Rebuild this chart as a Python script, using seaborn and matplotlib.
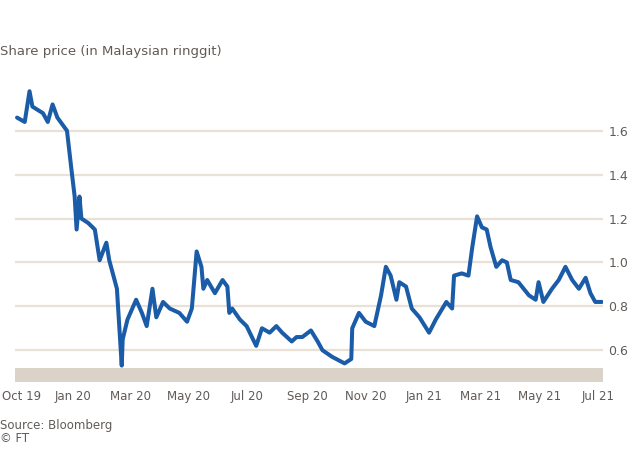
import pandas as pd
import matplotlib.pyplot as plt
import matplotlib.dates as mdates
import seaborn as sns

# 주가 데이터
dates = [
    "2019-11-04", "2019-11-12", "2019-11-17", "2019-11-20", "2019-12-01", "2019-12-06",
    "2019-12-11", "2019-12-16", "2019-12-26", "2019-12-31", "2020-01-03", "2020-01-05",
    "2020-01-08", "2020-01-10", "2020-01-17", "2020-01-24", "2020-01-29", "2020-02-05",
    "2020-02-08", "2020-02-16", "2020-02-21", "2020-02-22", "2020-02-27", "2020-03-07",
    "2020-03-13", "2020-03-18", "2020-03-24", "2020-03-28", "2020-04-04", "2020-04-11",
    "2020-04-21", "2020-04-29", "2020-05-04", "2020-05-09", "2020-05-14", "2020-05-16",
    "2020-05-20", "2020-05-28", "2020-06-05", "2020-06-10", "2020-06-12", "2020-06-15",
    "2020-06-23", "2020-06-30", "2020-07-10", "2020-07-16", "2020-07-24", "2020-07-31",
    "2020-08-06", "2020-08-16", "2020-08-21", "2020-08-27", "2020-09-05", "2020-09-12",
    "2020-09-17", "2020-09-27", "2020-10-10", "2020-10-17", "2020-10-18", "2020-10-25",
    "2020-11-01", "2020-11-10", "2020-11-17", "2020-11-22", "2020-11-27", "2020-12-03",
    "2020-12-06", "2020-12-13", "2020-12-19", "2020-12-27", "2021-01-06", "2021-01-13",
    "2021-01-24", "2021-01-30", "2021-02-01", "2021-02-09", "2021-02-16", "2021-02-20",
    "2021-02-25", "2021-03-02", "2021-03-07", "2021-03-11", "2021-03-17", "2021-03-23",
    "2021-03-28", "2021-04-01", "2021-04-09", "2021-04-20", "2021-04-27", "2021-04-30",
    "2021-05-05", "2021-05-14", "2021-05-21", "2021-05-28", "2021-06-04", "2021-06-11",
    "2021-06-18", "2021-06-23", "2021-06-28", "2021-07-05",
]
prices = [
    1.66, 1.64, 1.78, 1.71, 1.68, 1.64,
    1.72, 1.66, 1.60, 1.41, 1.30, 1.15,
    1.30, 1.20, 1.18, 1.15, 1.01, 1.09,
    1.01, 0.88, 0.53, 0.65, 0.74, 0.83,
    0.77, 0.71, 0.88, 0.75, 0.82, 0.79,
    0.77, 0.73, 0.79, 1.05, 0.98, 0.88,
    0.92, 0.86, 0.92, 0.89, 0.77, 0.79,
    0.74, 0.71, 0.62, 0.70, 0.68, 0.71,
    0.68, 0.64, 0.66, 0.66, 0.69, 0.64,
    0.60, 0.57, 0.54, 0.56, 0.70, 0.77,
    0.73, 0.71, 0.85, 0.98, 0.94, 0.83,
    0.91, 0.89, 0.79, 0.75, 0.68, 0.74,
    0.82, 0.79, 0.94, 0.95, 0.94, 1.07,
    1.21, 1.16, 1.15, 1.07, 0.98, 1.01,
    1.00, 0.92, 0.91, 0.85, 0.83, 0.91,
    0.82, 0.88, 0.92, 0.98, 0.92, 0.88,
    0.93, 0.86, 0.82, 0.82,
]

y_ticks = [0.6, 0.8, 1.0, 1.2, 1.4, 1.6]
x_tick_dates = ["2019-11-09", "2020-01-01", "2020-03-01", "2020-05-01", "2020-07-01",
                "2020-09-01", "2020-11-01", "2021-01-01", "2021-03-01", "2021-05-01",
                "2021-07-01"]
x_tick_labels = ["Oct 19", "Jan 20", "Mar 20", "May 20", "Jul 20", "Sep 20", "Nov 20",
                 "Jan 21", "Mar 21", "May 21", "Jul 21"]

df = pd.DataFrame({"date": pd.to_datetime(dates), "price": prices})

sns.set_style("white")
plt.rcParams['font.family'] = ['DejaVu Sans']

text_color = "#615b57"
grid_color = "#e9e1d6"

fig = plt.figure(figsize=(6.3, 4.5), dpi=100)
ax = fig.add_axes([0.024, 0.151, 0.933, 0.656])

# 격자선
for v in y_ticks:
    ax.axhline(v, color=grid_color, lw=1.6, zorder=0)
# 아래쪽 띠
ax.axhspan(0.455, 0.52, color="#dcd3c8", lw=0, zorder=1)

sns.lineplot(data=df, x="date", y="price", color="#1a5ca8", lw=2.9, ax=ax, zorder=3)

ax.set_ylim(0.455, 1.8)
ax.set_xlim(pd.Timestamp("2019-11-02"), pd.Timestamp("2021-07-06"))

ax.yaxis.tick_right()
ax.set_yticks(y_ticks)
ax.set_yticklabels([f"{v:.1f}" for v in y_ticks])
ax.tick_params(axis="y", length=0, pad=4, labelsize=9, labelcolor=text_color)

ax.set_xticks(pd.to_datetime(x_tick_dates))
ax.set_xticklabels(x_tick_labels)
ax.xaxis.set_minor_locator(mdates.MonthLocator())
ax.tick_params(axis="x", which="both", length=3, width=0.8, color="#cfc6bb",
               direction="out", pad=3, labelsize=8.5, labelcolor=text_color)

ax.set_xlabel("")
ax.set_ylabel("")
sns.despine(ax=ax, left=True, right=True, top=True, bottom=True)

fig.text(0.0, 0.885, "Share price (in Malaysian ringgit)", fontsize=9.5, color=text_color,
         ha="left", va="center")
fig.text(0.0, 0.055, "Source: Bloomberg", fontsize=8.5, color=text_color, ha="left", va="center")
fig.text(0.0, 0.025, "© FT", fontsize=8.5, color=text_color, ha="left", va="center")

fig.savefig("out.png", dpi=100, facecolor="white")
